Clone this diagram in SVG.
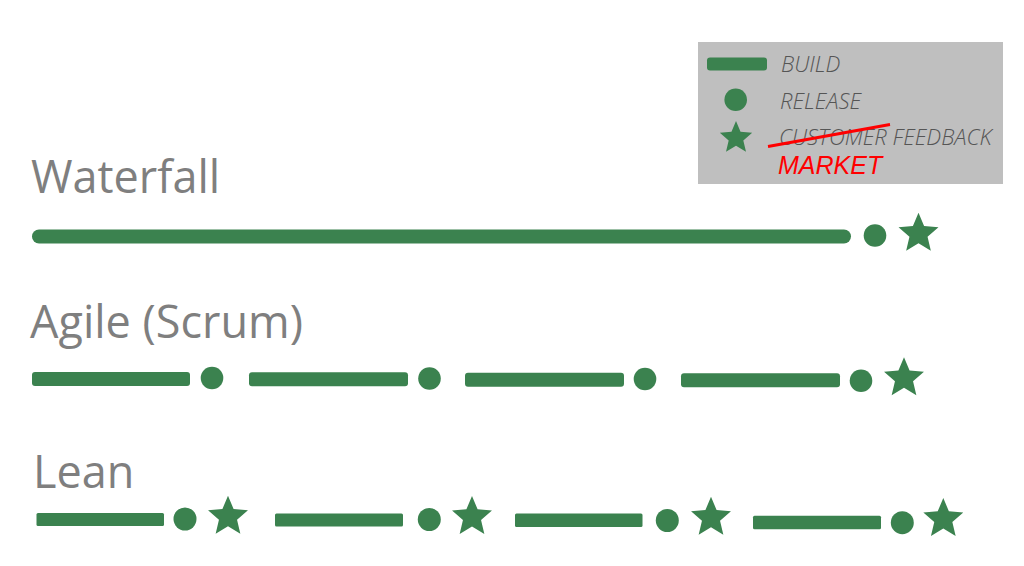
<svg xmlns="http://www.w3.org/2000/svg" xmlns:xlink="http://www.w3.org/1999/xlink" width="1024" height="566" viewBox="0 0 1024 566">
<style>
.g{fill:#3b824f}
.title{font-family:"Open Sans","Liberation Sans",sans-serif;font-size:45px;fill:#7f7f7f}
.leg{font-family:"Open Sans","Liberation Sans",sans-serif;font-size:22px;font-style:italic;font-weight:300;fill:#555555}
.mk{font-family:"Liberation Sans",Arial,sans-serif;font-size:25px;font-style:italic;fill:#ff0000}
</style>
<defs>
<path id="star" d="M0,-21 L5.58,-7.69 L19.97,-6.49 L9.04,2.94 L12.34,16.99 L0,9.5 L-12.34,16.99 L-9.04,2.94 L-19.97,-6.49 L-5.58,-7.69 Z"/>
</defs>
<rect width="1024" height="566" fill="#ffffff"/>
<g id="legend">
<rect x="698" y="42" width="305" height="142" fill="#bfbfbf"/>
<rect class="g" x="707" y="57.5" width="60" height="13" rx="3"/>
<text class="leg" x="781" y="72">BUILD</text>
<circle class="g" cx="735.7" cy="99.7" r="11.3"/>
<text class="leg" x="780" y="108.5">RELEASE</text>
<use xlink:href="#star" class="g" transform="translate(736,138) scale(0.81)"/>
<text class="leg" x="779" y="144.5">CUSTOMER FEEDBACK</text>
<line x1="768" y1="146.5" x2="890" y2="124.5" stroke="#ff0000" stroke-width="3"/>
<text class="mk" x="778" y="173.5">MARKET</text>
</g>
<g id="waterfall">
<text class="title" x="31" y="192.5">Waterfall</text>
<line x1="39" y1="236.5" x2="844" y2="236.5" stroke="#3b824f" stroke-width="14" stroke-linecap="round"/>
<circle class="g" cx="875" cy="235.5" r="11.3"/>
<use xlink:href="#star" class="g" transform="translate(918.5,233.7)"/>
</g>
<g id="agile">
<text class="title" x="30" y="337.5">Agile (Scrum)</text>
<rect class="g" x="32" y="372" width="158" height="14" rx="3"/>
<circle class="g" cx="212" cy="378" r="11.3"/>
<rect class="g" x="249" y="372.3" width="159" height="14" rx="3"/>
<circle class="g" cx="429.5" cy="378.5" r="11.3"/>
<rect class="g" x="465" y="372.7" width="159" height="14" rx="3"/>
<circle class="g" cx="645" cy="379" r="11.3"/>
<rect class="g" x="681" y="373.3" width="159" height="14" rx="3"/>
<circle class="g" cx="861" cy="380.7" r="11.3"/>
<use xlink:href="#star" class="g" transform="translate(904,378.3)"/>
</g>
<g id="lean">
<text class="title" x="33" y="487.5">Lean</text>
<rect class="g" x="36.5" y="513" width="127.5" height="13" rx="1.5"/>
<circle class="g" cx="185" cy="519" r="11.5"/>
<use xlink:href="#star" class="g" transform="translate(228,516.7)"/>
<rect class="g" x="275" y="513.5" width="128" height="13" rx="1.5"/>
<circle class="g" cx="429.3" cy="519.5" r="11.5"/>
<use xlink:href="#star" class="g" transform="translate(472,517)"/>
<rect class="g" x="515" y="513.5" width="127.5" height="13.5" rx="1.5"/>
<circle class="g" cx="667.3" cy="520.5" r="11.5"/>
<use xlink:href="#star" class="g" transform="translate(711,517.7)"/>
<rect class="g" x="753" y="515.8" width="128" height="13.5" rx="1.5"/>
<circle class="g" cx="902.3" cy="522.7" r="11.5"/>
<use xlink:href="#star" class="g" transform="translate(943.3,519)"/>
</g>
</svg>
